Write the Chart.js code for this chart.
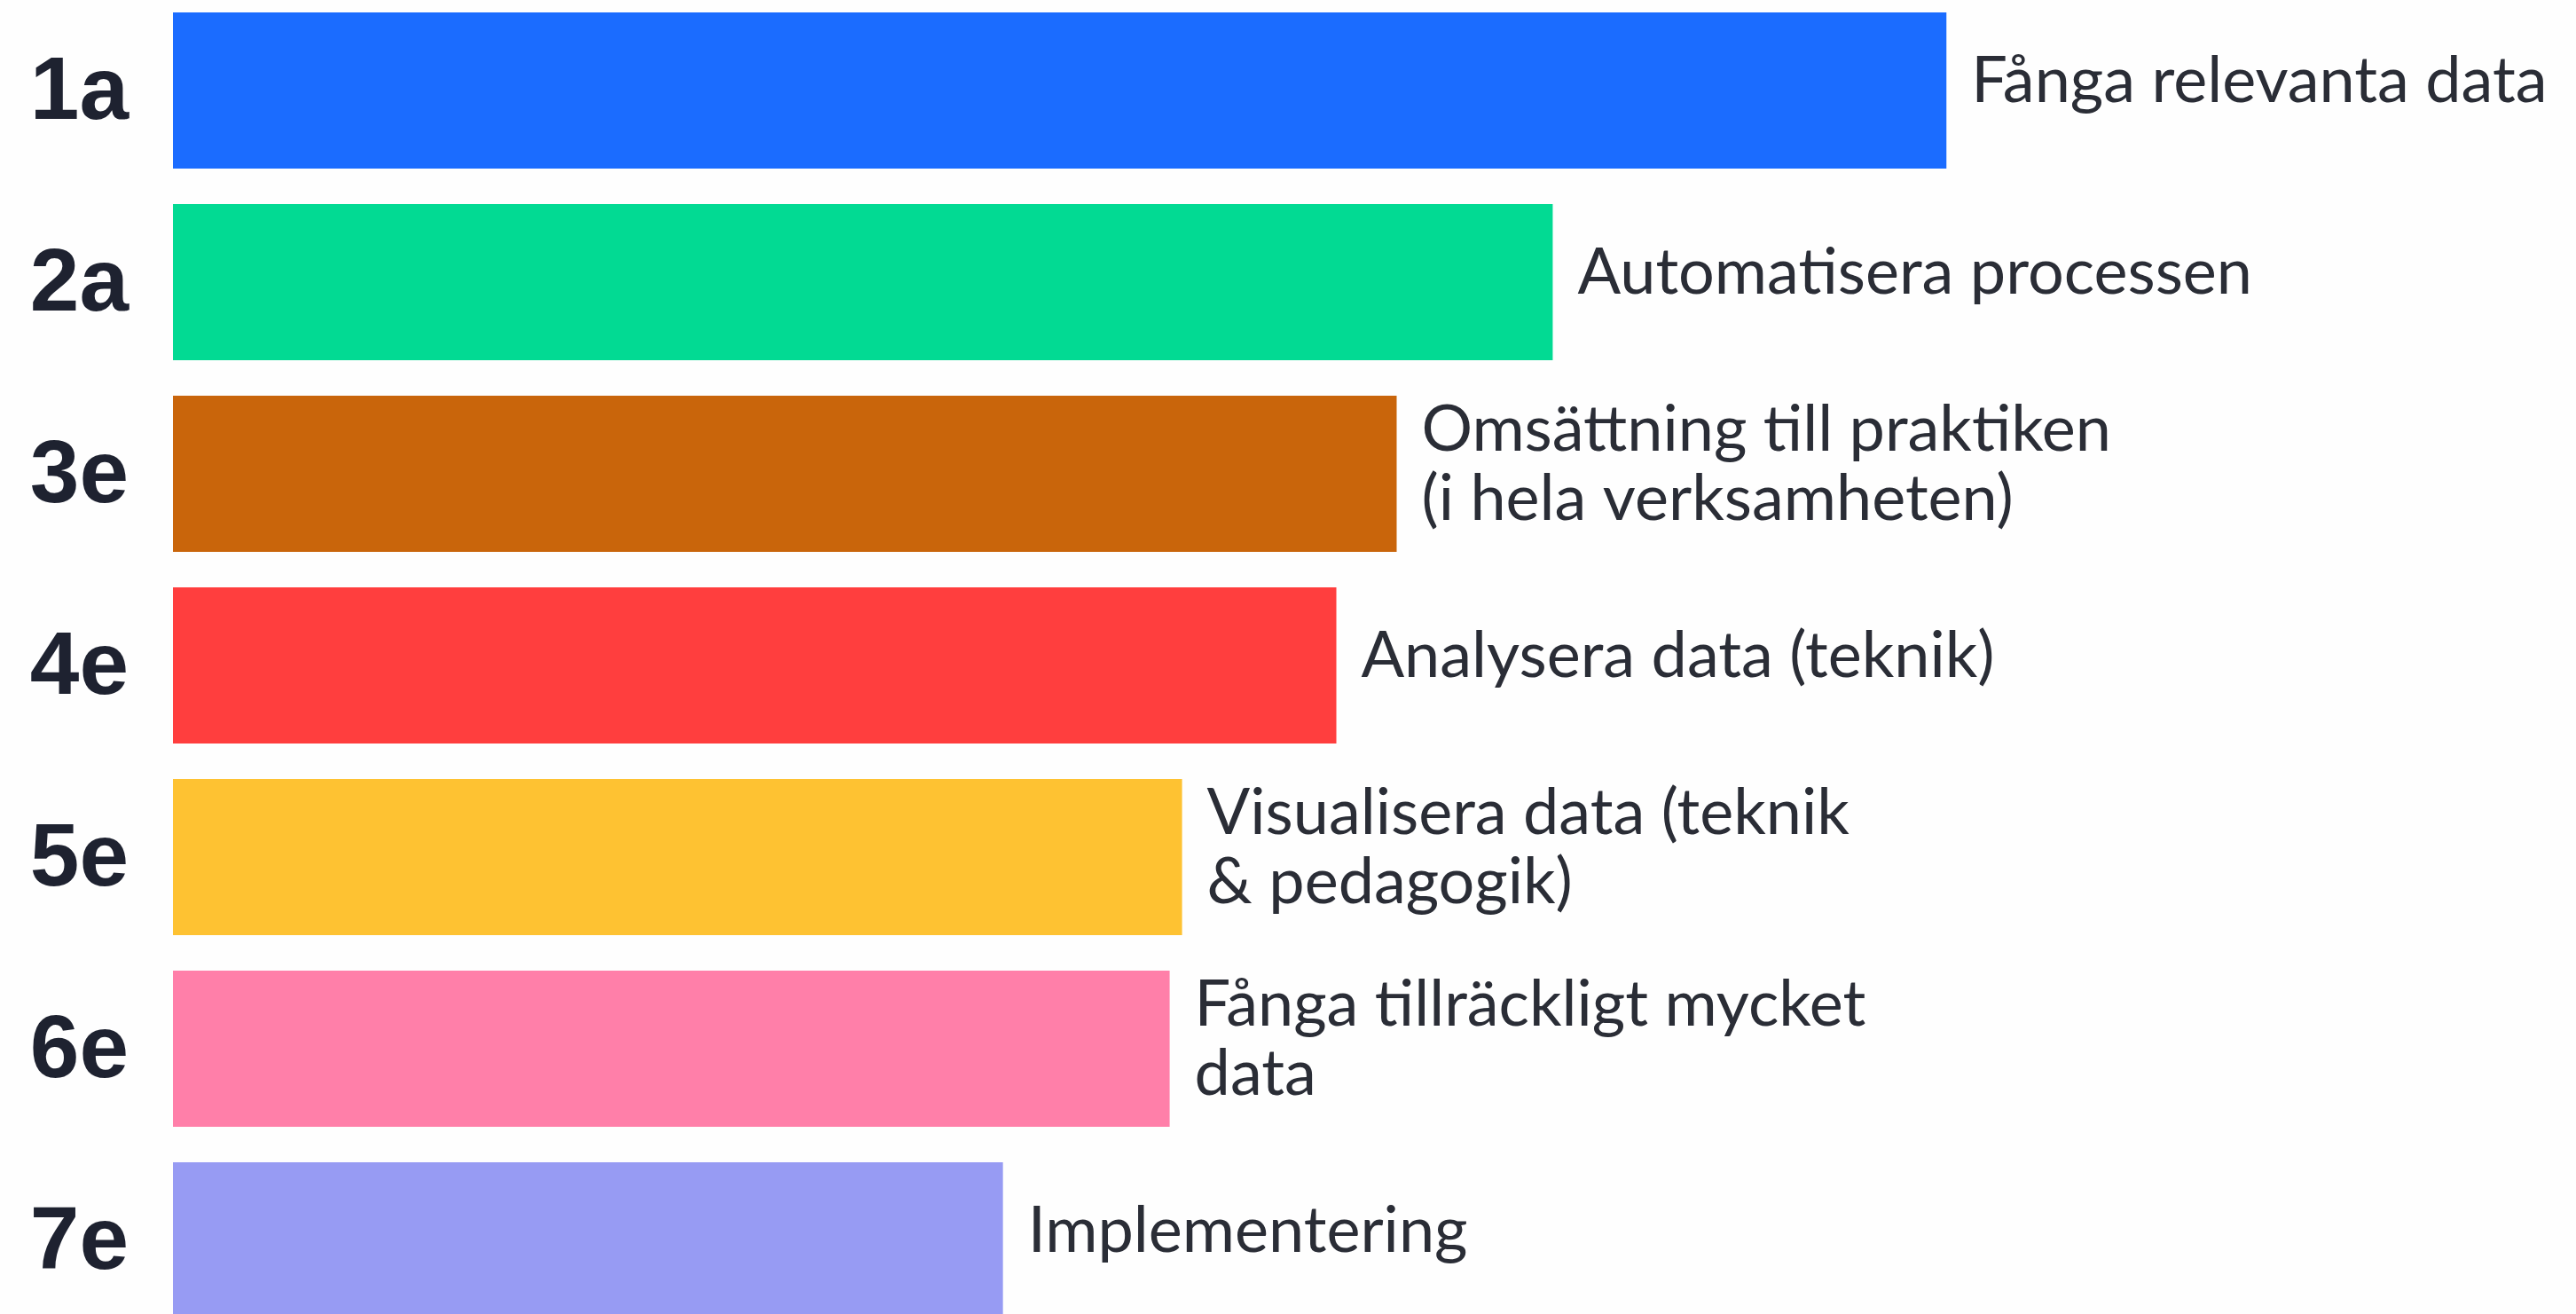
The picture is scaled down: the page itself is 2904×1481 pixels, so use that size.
<!DOCTYPE html>
<html>
<head>
<meta charset="utf-8">
<script src="https://cdn.jsdelivr.net/npm/chart.js@4.4.1/dist/chart.umd.min.js"></script>
<style>
    html, body { margin: 0; padding: 0; background: #fefefe; overflow: hidden; }
    body { width: 2904px; height: 1481px; position: relative; }
    #wrap { position: absolute; left: 0; top: -6px; width: 2904px; height: 1512px; }
</style>
</head>
<body>
<div id="wrap"><canvas id="myChart"></canvas></div>
<script>
    "use strict";

    // categories, values and notes
    var ranks = ['1a', '2a', '3e', '4e', '5e', '6e', '7e'];
    var scores = [100, 77.8, 69.0, 65.6, 56.9, 56.2, 46.8];
    var notes = [
        'Fånga relevanta data',
        'Automatisera processen',
        'Omsättning till praktiken\n(i hela verksamheten)',
        'Analysera data (teknik)',
        'Visualisera data (teknik\n& pedagogik)',
        'Fånga tillräckligt mycket\ndata',
        'Implementering'
    ];
    var barColors = ['#1b6cff', '#02da93', '#c9650b', '#ff3e3e', '#fec232', '#ff7fa9', '#979bf3'];

    /*Labels to the right of each bar*/
    var barNotes = {
        id: 'barNotes',
        afterDatasetsDraw: function (chart) {
            var ctx = chart.ctx;
            var meta = chart.getDatasetMeta(0);
            ctx.save();
            ctx.font = '400 72px Lato';
            ctx.fillStyle = '#2a2d36';
            ctx.textAlign = 'left';
            ctx.textBaseline = 'alphabetic';
            meta.data.forEach(function (bar, i) {
                var lines = notes[i].split('\n');
                var lh = 78;
                var y0 = bar.y + 13 - (lines.length - 1) * lh / 2;
                lines.forEach(function (line, j) {
                    ctx.fillText(line, bar.x + 28, y0 + j * lh);
                });
            });
            ctx.restore();
        }
    };

    var ctx = document.getElementById('myChart').getContext('2d');
    var chart = new Chart(ctx, {
        type: 'bar',
        data: {
            labels: ranks,
            datasets: [{
                data: scores,
                backgroundColor: barColors,
                borderWidth: 0,
                barPercentage: 1,
                categoryPercentage: 0.815
            }]
        },
        options: {
            indexAxis: 'y',
            responsive: true,
            maintainAspectRatio: false,
            animation: false,
            layout: { padding: { left: 0, right: 10, top: 0, bottom: 0 } },
            plugins: {
                legend: { display: false },
                tooltip: { enabled: false }
            },
            scales: {
                x: {
                    display: false,
                    min: 0,
                    max: 135
                },
                y: {
                    grid: { display: false, drawTicks: false },
                    border: { display: false },
                    ticks: {
                        padding: 50,
                        labelOffset: 4,
                        color: '#1e2230',
                        font: { family: 'Liberation Sans', size: 100, weight: 'bold' }
                    },
                    afterFit: function (scale) {
                        scale.width = 195;
                        scale.paddingTop = 0;
                        scale.paddingBottom = 0;
                    }
                }
            }
        },
        plugins: [barNotes]
    });
</script>
</body>
</html>
